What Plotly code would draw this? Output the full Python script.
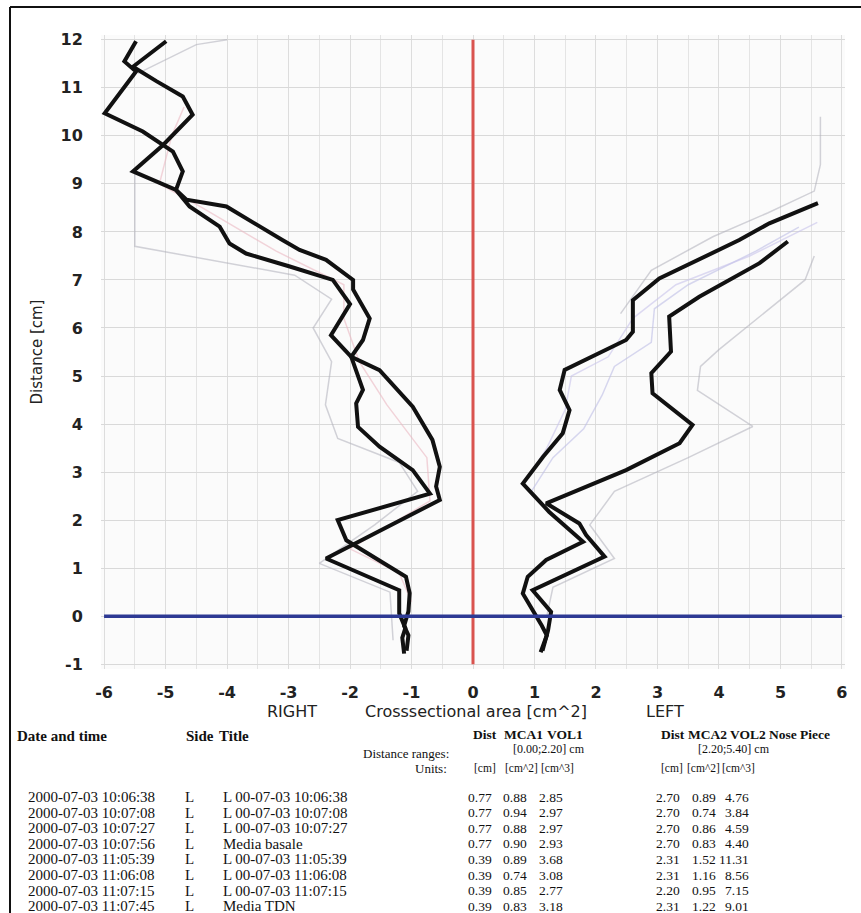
import plotly.graph_objects as go

# ---------------- data ----------------
# Right side (negative x), two thick measurement curves
right_a_x = [-1.12, -1.15, -1.10, -1.20, -1.20, -2.39, -0.54, -0.60, -0.54, -0.66, -0.98, -1.52, -1.98, -2.31, -2.00, -2.28, -2.98, -3.69, -3.96, -4.12, -4.61, -4.83, -5.53, -5.04, -4.56, -4.72, -5.15, -5.53, -4.99]
right_a_y = [-0.78, -0.45, -0.25, 0.06, 0.54, 1.20, 2.42, 2.70, 3.11, 3.67, 4.36, 5.12, 5.40, 5.85, 6.50, 7.00, 7.28, 7.55, 7.76, 8.11, 8.53, 8.875, 9.26, 9.81, 10.44, 10.82, 11.14, 11.44, 11.97]
right_b_x = [-1.08, -1.05, -1.12, -1.05, -1.03, -1.09, -2.06, -2.20, -0.70, -0.98, -1.52, -1.87, -1.90, -1.79, -1.98, -1.79, -1.68, -1.95, -1.95, -2.39, -2.82, -3.10, -4.01, -4.66, -4.83, -4.72, -4.88, -5.04, -5.37, -5.99, -5.48, -5.67, -5.48]
right_b_y = [-0.72, -0.40, -0.20, 0.10, 0.48, 0.82, 1.58, 2.00, 2.55, 3.04, 3.53, 3.94, 4.43, 4.71, 5.40, 5.75, 6.20, 6.80, 7.00, 7.42, 7.625, 7.83, 8.53, 8.67, 8.875, 9.26, 9.67, 9.81, 10.09, 10.47, 11.34, 11.55, 11.97]

# Left side (positive x), two thick measurement curves
left_a_x = [1.10, 1.20, 1.12, 1.00, 0.81, 0.89, 1.19, 1.79, 1.24, 0.81, 1.14, 1.46, 1.57, 1.41, 1.49, 2.49, 2.60, 2.60, 3.03, 4.33, 4.82, 5.61]
left_a_y = [-0.75, -0.40, -0.20, 0.06, 0.47, 0.82, 1.17, 1.55, 2.17, 2.76, 3.32, 3.81, 4.29, 4.71, 5.125, 5.75, 5.92, 6.58, 7.03, 7.83, 8.18, 8.60]
left_b_x = [1.13, 1.22, 1.27, 0.97, 2.14, 1.84, 1.73, 1.19, 2.49, 3.36, 3.57, 2.92, 2.90, 3.22, 3.19, 3.68, 4.66, 5.12]
left_b_y = [-0.72, -0.30, 0.09, 0.54, 1.24, 1.69, 1.93, 2.35, 3.04, 3.60, 3.98, 4.64, 5.06, 5.51, 6.24, 6.65, 7.35, 7.80]

# faint reference curves
faint_gray_r_x = [-1.30, -1.35, -2.50, -1.60, -0.90, -1.20, -2.20, -2.40, -2.30, -2.60, -2.30, -2.90, -5.50, -5.50]
faint_gray_r_y = [-0.50, 0.50, 1.10, 1.90, 2.60, 3.20, 3.70, 4.40, 5.30, 6.00, 6.60, 7.10, 7.70, 9.30]
faint_pink_r_x = [-1.00, -1.20, -2.00, -0.70, -0.75, -1.40, -1.85, -2.10, -2.10, -3.20, -4.40, -5.10, -4.90, -4.70]
faint_pink_r_y = [0.30, 0.90, 1.40, 2.40, 3.30, 4.40, 5.30, 6.20, 6.90, 7.60, 8.50, 9.00, 10.00, 10.60]
faint_gray_rt_x = [-5.45, -4.50, -4.00]
faint_gray_rt_y = [11.30, 11.90, 12.00]
faint_gray_l_x = [1.20, 1.30, 2.30, 1.90, 2.30, 3.50, 4.55, 3.65, 3.70, 4.00, 5.40, 5.55]
faint_gray_l_y = [0.00, 0.60, 1.20, 1.90, 2.60, 3.30, 3.95, 4.70, 5.20, 5.55, 7.00, 7.50]
faint_gray_lt_x = [2.40, 2.90, 3.90, 4.80, 5.55, 5.65, 5.65]
faint_gray_lt_y = [6.30, 7.20, 7.90, 8.40, 8.85, 9.40, 10.40]
faint_lav_l_x = [0.95, 1.30, 1.80, 2.10, 2.30, 2.90, 2.95, 3.50, 4.60, 5.30]
faint_lav_l_y = [2.60, 3.30, 3.90, 4.60, 5.20, 5.70, 6.40, 6.90, 7.60, 8.10]
faint_lav_l2_x = [0.90, 1.20, 1.50, 1.60, 2.20, 2.60, 3.30, 4.50, 5.60]
faint_lav_l2_y = [2.90, 3.50, 4.30, 5.00, 5.40, 6.20, 6.90, 7.50, 8.20]

x_ticks = [-6, -5, -4, -3, -2, -1, 0, 1, 2, 3, 4, 5, 6]
y_ticks = [-1, 0, 1, 2, 3, 4, 5, 6, 7, 8, 9, 10, 11, 12]

# table data
dates = ["2000-07-03 10:06:38", "2000-07-03 10:07:08", "2000-07-03 10:07:27", "2000-07-03 10:07:56",
         "2000-07-03 11:05:39", "2000-07-03 11:06:08", "2000-07-03 11:07:15", "2000-07-03 11:07:45"]
sides = ["L", "L", "L", "L", "L", "L", "L", "L"]
titles = ["L 00-07-03 10:06:38", "L 00-07-03 10:07:08", "L 00-07-03 10:07:27", "Media basale",
          "L 00-07-03 11:05:39", "L 00-07-03 11:06:08", "L 00-07-03 11:07:15", "Media TDN"]
dist1 = ["0.77", "0.77", "0.77", "0.77", "0.39", "0.39", "0.39", "0.39"]
mca1 = ["0.88", "0.94", "0.88", "0.90", "0.89", "0.74", "0.85", "0.83"]
vol1 = ["2.85", "2.97", "2.97", "2.93", "3.68", "3.08", "2.77", "3.18"]
dist2 = ["2.70", "2.70", "2.70", "2.70", "2.31", "2.31", "2.20", "2.31"]
mca2 = ["0.89", "0.74", "0.86", "0.83", "1.52", "1.16", "0.95", "1.22"]
vol2 = ["4.76", "3.84", "4.59", "4.40", "11.31", "8.56", "7.15", "9.01"]

# ---------------- figure ----------------
W, H = 861, 913
L, R, T, B = 101, 16, 35, 244
PW, PH = W - L - R, H - T - B


def px(x):
    return (x - L) / PW


def py(y):
    return (H - B - y) / PH


fig = go.Figure()

faint = [
    (faint_gray_r_x, faint_gray_r_y, "rgba(175,175,185,0.55)"),
    (faint_pink_r_x, faint_pink_r_y, "rgba(235,185,195,0.6)"),
    (faint_gray_rt_x, faint_gray_rt_y, "rgba(175,175,185,0.55)"),
    (faint_gray_l_x, faint_gray_l_y, "rgba(175,175,185,0.55)"),
    (faint_gray_lt_x, faint_gray_lt_y, "rgba(175,175,185,0.55)"),
    (faint_lav_l_x, faint_lav_l_y, "rgba(190,190,230,0.6)"),
    (faint_lav_l2_x, faint_lav_l2_y, "rgba(200,195,235,0.6)"),
]
for fx, fy, col in faint:
    fig.add_trace(go.Scatter(x=fx, y=fy, mode="lines", line=dict(color=col, width=1.5),
                             hoverinfo="skip", showlegend=False))

for cx, cy in [(right_a_x, right_a_y), (right_b_x, right_b_y), (left_a_x, left_a_y), (left_b_x, left_b_y)]:
    fig.add_trace(go.Scatter(x=cx, y=cy, mode="lines", line=dict(color="#111111", width=4),
                             hoverinfo="skip", showlegend=False))

# reference axes lines
fig.add_trace(go.Scatter(x=[0, 0], y=[-1, 12], mode="lines", line=dict(color="#d9534f", width=3),
                         hoverinfo="skip", showlegend=False))
fig.add_trace(go.Scatter(x=[-6, 6], y=[0, 0], mode="lines", line=dict(color="#2e3a94", width=3.5),
                         hoverinfo="skip", showlegend=False))

tickfont = dict(family="DejaVu Sans", size=16, color="#222222", weight="bold")
fig.update_xaxes(range=[-6.05, 6.05], tickvals=x_ticks, ticktext=[str(v) for v in x_ticks],
                 showgrid=True, gridcolor="#dddddd", gridwidth=1, zeroline=False,
                 ticks="outside", ticklen=9, tickcolor="rgba(0,0,0,0)", tickfont=tickfont,
                 minor=dict(dtick=0.5, showgrid=True, gridcolor="#e4e4e4", gridwidth=1),
                 showline=False)
fig.update_yaxes(range=[-1.1, 12.1], tickvals=y_ticks, ticktext=[str(v) for v in y_ticks],
                 showgrid=True, gridcolor="#d9d9d9", gridwidth=1, zeroline=False,
                 ticks="outside", ticklen=14, tickcolor="rgba(0,0,0,0)", tickfont=tickfont,
                 title=dict(text="Distance [cm]", font=dict(family="DejaVu Sans", size=15, color="#222222"),
                            standoff=14),
                 showline=False)

ann = []
axfont = dict(family="DejaVu Sans", size=16, color="#222222")
ann.append(dict(x=px(292), y=py(711), text="RIGHT", font=axfont, xanchor="center", yanchor="middle"))
ann.append(dict(x=px(476), y=py(711), text="Crosssectional area [cm^2]", font=axfont, xanchor="center", yanchor="middle"))
ann.append(dict(x=px(665), y=py(711), text="LEFT", font=axfont, xanchor="center", yanchor="middle"))

hb = dict(family="Liberation Serif", size=15, color="#111111", weight="bold")
hb2 = dict(family="Liberation Serif", size=13.5, color="#111111", weight="bold")
hn = dict(family="Liberation Serif", size=13, color="#111111")
rn = dict(family="Liberation Serif", size=12, color="#111111")
un = dict(family="Liberation Serif", size=11.5, color="#111111")
rowf = dict(family="Liberation Serif", size=15, color="#111111")
numf = dict(family="Liberation Serif", size=13.5, color="#111111")


def txt(x, y, s, f, anchor="left"):
    ann.append(dict(x=px(x), y=py(y), text=s, font=f, xanchor=anchor, yanchor="middle",
                    borderpad=0))


txt(16, 736, "Date and time", hb)
txt(185, 736, "Side", hb)
txt(218, 736, "Title", hb)
txt(450, 753, "Distance ranges:", hn, "right")
txt(448, 768, "Units:", hn, "right")
txt(472, 734, "Dist", hb2)
txt(503, 734, "MCA1", hb2)
txt(546, 734, "VOL1", hb2)
txt(512, 749, "[0.00;2.20] cm", rn)
txt(473, 768, "[cm]", un)
txt(504, 768, "[cm^2]", un)
txt(540, 768, "[cm^3]", un)
txt(660, 734, "Dist", hb2)
txt(687, 734, "MCA2", hb2)
txt(729, 734, "VOL2", hb2)
txt(768, 734, "Nose Piece", hb2)
txt(697, 749, "[2.20;5.40] cm", rn)
txt(660, 768, "[cm]", un)
txt(686, 768, "[cm^2]", un)
txt(721, 768, "[cm^3]", un)

for i in range(len(dates)):
    yy = 797 + i * 15.6
    txt(27, yy, dates[i], rowf)
    txt(184, yy, sides[i], rowf)
    txt(222, yy, titles[i], rowf)
    txt(493, yy, dist1[i], numf, "right")
    txt(528, yy, mca1[i], numf, "right")
    txt(564, yy, vol1[i], numf, "right")
    txt(681, yy, dist2[i], numf, "right")
    txt(717, yy, mca2[i], numf, "right")
    txt(750, yy, vol2[i], numf, "right")

for a in ann:
    a.update(xref="paper", yref="paper", showarrow=False)

shapes = [
    dict(type="line", xref="paper", yref="paper", x0=px(10), x1=px(861), y0=py(7), y1=py(7),
         line=dict(color="#111111", width=2)),
    dict(type="line", xref="paper", yref="paper", x0=px(10), x1=px(10), y0=py(7), y1=py(913),
         line=dict(color="#111111", width=2)),
]

fig.update_layout(width=W, height=H, margin=dict(l=L, r=R, t=T, b=B, autoexpand=False),
                  paper_bgcolor="white", plot_bgcolor="#fbfbfb",
                  annotations=ann, shapes=shapes, showlegend=False)

fig.write_html("out.html")
